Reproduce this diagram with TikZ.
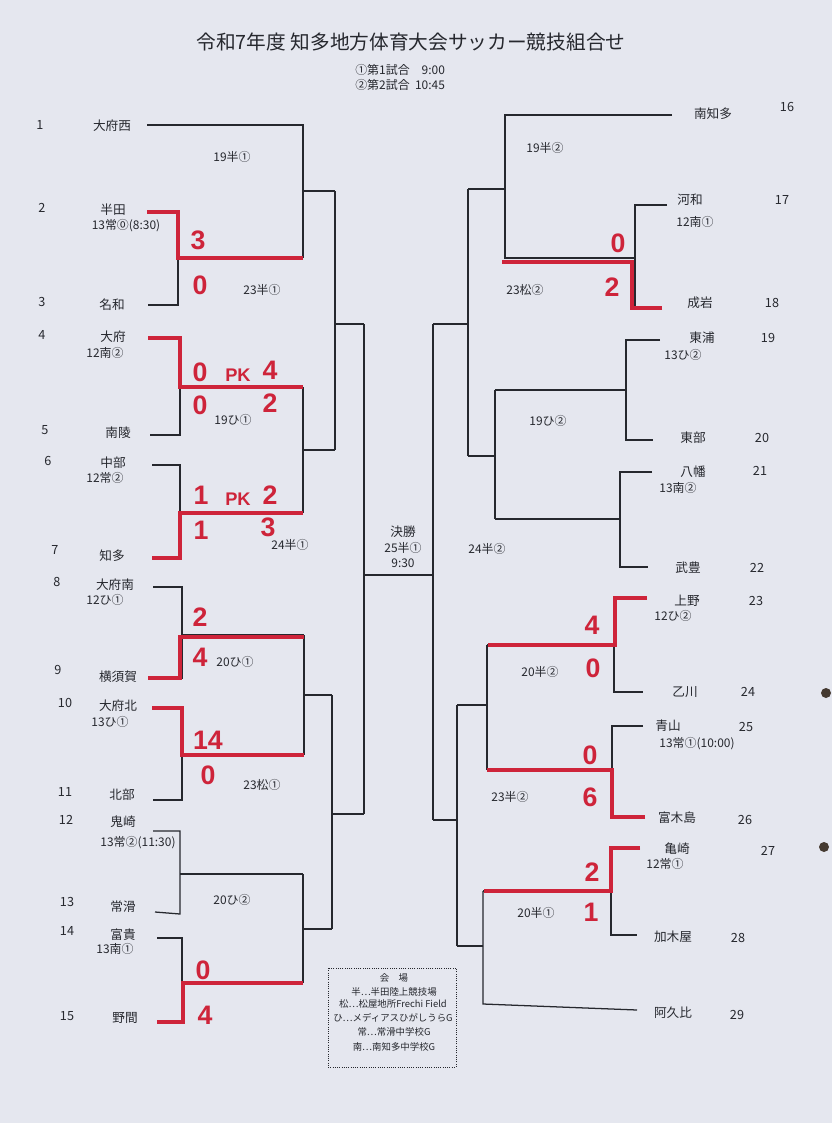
\documentclass[tikz,border=0pt]{standalone}
\usepackage{fontspec}
\setmainfont{Noto Sans CJK JP}
\newfontfamily\scorefont{Liberation Sans}
\usepackage{tikz}
\usetikzlibrary{positioning}
\definecolor{paper}{RGB}{229,231,239}
\definecolor{marker}{RGB}{206,36,58}
\definecolor{ink}{RGB}{38,40,46}

\begin{document}
\begin{tikzpicture}[x=0.025cm, y=-0.025cm,
    bk/.style={draw=ink, line width=0.9pt},
    win/.style={draw=marker, line width=2.8pt},
    team/.style={font=\fontsize{9}{10}\selectfont, text=ink, inner sep=0pt},
    code/.style={font=\fontsize{8.5}{10}\selectfont, text=ink, inner sep=0pt},
    seed/.style={font=\fontsize{9}{10}\selectfont, text=ink, inner sep=0pt},
    score/.style={font=\scorefont\bfseries\fontsize{19}{20}\selectfont, text=marker, inner sep=0pt},
    pk/.style={font=\scorefont\bfseries\fontsize{13}{14}\selectfont, text=marker, inner sep=0pt},
    venue/.style={font=\fontsize{6.7}{8}\selectfont, text=ink, inner sep=0pt}
]

\fill[paper] (0,0) rectangle (832,1123);

% title
\node[font=\fontsize{14}{15}\selectfont, text=ink] (title) at (411,42) {令和7年度\ 知多地方体育大会サッカー競技組合せ};
\node[code, anchor=west] (time1) at (355,70) {①第1試合\quad 9:00};
\node[code, anchor=west] (time2) at (355,85) {②第2試合\ \ 10:45};

% left bracket
\draw[bk] (147,125) -| (303,258);
\draw[bk] (147,212) -| (178,305) -- (148,305);
\draw[bk] (178,258) -- (303,258);
\draw[bk] (303,191) -- (335,191);
\draw[bk] (148,338) -| (180,435) -- (150,435);
\draw[bk] (180,387) -- (303,387);
\draw[bk] (152,465) -| (180,558) -- (152,558);
\draw[bk] (180,513) -- (303,513);
\draw[bk] (303,387) -- (303,513);
\draw[bk] (303,450) -- (335,450);
\draw[bk] (335,191) -- (335,450);
\draw[bk] (335,324) -- (364,324);
\draw[bk] (153,587) -| (182,678) -- (148,678);
\draw[bk] (182,635) -- (304,635);
\draw[bk] (152,708) -| (182,800) -- (153,800);
\draw[bk] (182,755) -- (304,755);
\draw[bk] (304,635) -- (304,755);
\draw[bk] (304,695) -- (332,695);
\draw[bk] (153,831) -| (180,914) -- (155,912);
\draw[bk] (180,874) -- (303,874);
\draw[bk] (157,938) -| (182,1022) -- (157,1022);
\draw[bk] (182,983) -- (303,983);
\draw[bk] (303,874) -- (303,983);
\draw[bk] (303,929) -- (332,929);
\draw[bk] (332,695) -- (332,929);
\draw[bk] (332,814) -- (364,814);
\draw[bk] (364,324) -- (364,814);

% final
\draw[bk] (364,575) -- (433,575);
\node[team] (final) at (403,532) {決勝};
\node[code, below=3pt of final] (final2) {25半①};
\node[code, below=3pt of final2] (final3) {9:30};

% right bracket
\draw[bk] (433,324) -- (433,820);
\draw[bk] (433,324) -- (468,324);
\draw[bk] (468,189) -- (468,456);
\draw[bk] (468,189) -- (505,189);
\draw[bk] (468,456) -- (495,456);
\draw[bk] (672,115) -| (505,258) -- (635,258);
\draw[bk] (667,205) -| (635,308) -- (662,308);
\draw[bk] (660,340) -| (626,440) -- (653,440);
\draw[bk] (626,390) -- (495,390);
\draw[bk] (652,472) -| (620,567) -- (648,567);
\draw[bk] (620,519) -- (495,519);
\draw[bk] (495,390) -- (495,519);
\draw[bk] (433,820) -- (457,820);
\draw[bk] (457,705) -- (457,946);
\draw[bk] (647,598) -| (614,692) -- (643,692);
\draw[bk] (614,645) -- (487,645);
\draw[bk] (643,726) -| (612,817) -- (645,817);
\draw[bk] (612,770) -- (487,770);
\draw[bk] (487,645) -- (487,770);
\draw[bk] (487,705) -- (457,705);
\draw[bk] (640,848) -| (611,935) -- (637,935);
\draw[bk] (611,891) -- (483,891);
\draw[bk] (483,891) -- (483,1004) -- (637,1010);
\draw[bk] (483,946) -- (457,946);

% winners (red marker)
\draw[win] (147,212) -| (178,258) -- (303,258);
\draw[win] (148,338) -| (180,387) -- (303,387);
\draw[win] (152,558) -| (180,513) -- (303,513);
\draw[win] (148,678) -| (180,637) -- (304,637);
\draw[win] (152,708) -| (182,755) -- (304,755);
\draw[win] (157,1022) -| (183,983) -- (303,983);
\draw[win] (662,308) -| (632,262) -- (502,262);
\draw[win] (647,598) -| (615,645) -- (488,645);
\draw[win] (645,817) -| (612,770) -- (487,770);
\draw[win] (640,848) -| (611,891) -- (484,891);

% left teams
\node[seed] (n1) at (40,125) {1};   \node[team] (t1) at (112,126) {大府西};
\node[seed] (n2) at (42,208) {2};   \node[team] (t2) at (113,210) {半田};
\node[code] (s2) at (126,226) {13常⓪(8:30)};
\node[seed] (n3) at (42,302) {3};   \node[team] (t3) at (112,305) {名和};
\node[seed] (n4) at (42,335) {4};   \node[team] (t4) at (113,337) {大府};
\node[code] (s4) at (105,353) {12南②};
\node[seed] (n5) at (45,430) {5};   \node[team] (t5) at (118,433) {南陵};
\node[seed] (n6) at (48,461) {6};   \node[team] (t6) at (113,463) {中部};
\node[code] (s6) at (105,478) {12常②};
\node[seed] (n7) at (55,550) {7};   \node[team] (t7) at (112,556) {知多};
\node[seed] (n8) at (57,582) {8};   \node[team] (t8) at (115,585) {大府南};
\node[code] (s8) at (105,600) {12ひ①};
\node[seed] (n9) at (58,670) {9};   \node[team] (t9) at (118,677) {横須賀};
\node[seed] (n10) at (65,703) {10}; \node[team] (t10) at (118,706) {大府北};
\node[code] (s10) at (110,722) {13ひ①};
\node[seed] (n11) at (65,792) {11}; \node[team] (t11) at (122,795) {北部};
\node[seed] (n12) at (66,820) {12}; \node[team] (t12) at (123,822) {鬼崎};
\node[code] (s12) at (138,843) {13常②(11:30)};
\node[seed] (n13) at (67,902) {13}; \node[team] (t13) at (123,907) {常滑};
\node[seed] (n14) at (67,931) {14}; \node[team] (t14) at (123,935) {富貴};
\node[code] (s14) at (115,949) {13南①};
\node[seed] (n15) at (67,1016) {15}; \node[team] (t15) at (125,1018) {野間};

% right teams
\node[team] (t16) at (713,114) {南知多};  \node[seed] (n16) at (787,107) {16};
\node[team] (t17) at (690,200) {河和};    \node[seed] (n17) at (782,200) {17};
\node[code] (s17) at (695,222) {12南①};
\node[team] (t18) at (700,303) {成岩};    \node[seed] (n18) at (772,303) {18};
\node[team] (t19) at (702,338) {東浦};    \node[seed] (n19) at (768,338) {19};
\node[code] (s19) at (683,355) {13ひ②};
\node[team] (t20) at (693,438) {東部};    \node[seed] (n20) at (762,438) {20};
\node[team] (t21) at (693,472) {八幡};    \node[seed] (n21) at (760,471) {21};
\node[code] (s21) at (678,488) {13南②};
\node[team] (t22) at (688,568) {武豊};    \node[seed] (n22) at (757,568) {22};
\node[team] (t23) at (687,601) {上野};    \node[seed] (n23) at (756,601) {23};
\node[code] (s23) at (673,616) {12ひ②};
\node[team] (t24) at (685,692) {乙川};    \node[seed] (n24) at (748,692) {24};
\node[team] (t25) at (668,726) {青山};    \node[seed] (n25) at (746,727) {25};
\node[code] (s25) at (697,744) {13常①(10:00)};
\node[team] (t26) at (677,818) {富木島};  \node[seed] (n26) at (745,820) {26};
\node[team] (t27) at (677,849) {亀崎};    \node[seed] (n27) at (768,851) {27};
\node[code] (s27) at (665,864) {12常①};
\node[team] (t28) at (673,937) {加木屋};  \node[seed] (n28) at (738,938) {28};
\node[team] (t29) at (673,1013) {阿久比}; \node[seed] (n29) at (737,1015) {29};

% match codes
\node[code] (m1) at (232,157) {19半①};
\node[code] (m2) at (262,290) {23半①};
\node[code] (m3) at (233,420) {19ひ①};
\node[code] (m4) at (290,545) {24半①};
\node[code] (m5) at (235,662) {20ひ①};
\node[code] (m6) at (262,785) {23松①};
\node[code] (m7) at (232,900) {20ひ②};
\node[code] (m8) at (545,148) {19半②};
\node[code] (m9) at (525,290) {23松②};
\node[code] (m10) at (548,421) {19ひ②};
\node[code] (m11) at (487,549) {24半②};
\node[code] (m12) at (540,672) {20半②};
\node[code] (m13) at (510,797) {23半②};
\node[code] (m14) at (536,913) {20半①};

% scores
\node[score] (a1) at (198,240) {3};
\node[score] (a2) at (200,285) {0};
\node[score] (b1) at (200,372) {0};
\node[pk] (b2) at (238,375) {PK};
\node[score] (b3) at (270,370) {4};
\node[score] (b4) at (200,405) {0};
\node[score] (b5) at (270,403) {2};
\node[score] (c1) at (201,495) {1};
\node[pk] (c2) at (238,499) {PK};
\node[score] (c3) at (270,495) {2};
\node[score] (c4) at (201,530) {1};
\node[score] (c5) at (268,527) {3};
\node[score] (d1) at (200,617) {2};
\node[score] (d2) at (200,657) {4};
\node[score] (e1) at (208,740) {14};
\node[score] (e2) at (208,775) {0};
\node[score] (g1) at (203,970) {0};
\node[score] (g2) at (205,1015) {4};
\node[score] (h1) at (618,243) {0};
\node[score] (h2) at (612,287) {2};
\node[score] (k1) at (592,625) {4};
\node[score] (k2) at (593,668) {0};
\node[score] (p1) at (590,755) {0};
\node[score] (p2) at (590,797) {6};
\node[score] (q1) at (592,872) {2};
\node[score] (q2) at (591,912) {1};

% venues
\draw[ink, densely dotted, line width=0.6pt] (328,968) rectangle (456,1067);
\node[venue] (v0) at (394,978) {会\quad 場};
\node[venue] (v1) at (394,992) {半…半田陸上競技場};
\node[venue] (v2) at (393,1004) {松…松屋地所Frechi Field};
\node[venue] (v3) at (393,1018) {ひ…メディアスひがしうらG};
\node[venue] (v4) at (394,1032) {常…常滑中学校G};
\node[venue] (v5) at (394,1047) {南…南知多中学校G};

% pins
\fill[ink!80!brown] (826,693) circle (5);
\fill[ink!80!brown] (824,847) circle (5);

\end{tikzpicture}
\end{document}
